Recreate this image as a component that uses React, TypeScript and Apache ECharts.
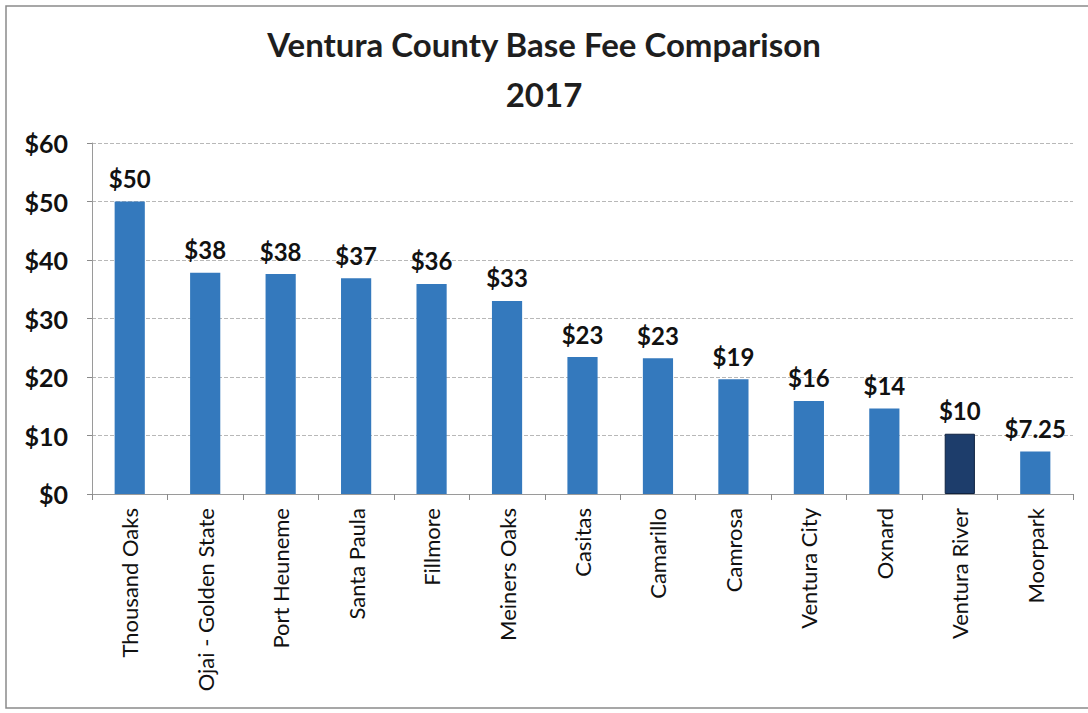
import React, { useEffect, useRef } from "react";
import * as echarts from "echarts";

const categories = [
  "Thousand Oaks",
  "Ojai - Golden State",
  "Port Heuneme",
  "Santa Paula",
  "Fillmore",
  "Meiners Oaks",
  "Casitas",
  "Camarillo",
  "Camrosa",
  "Ventura City",
  "Oxnard",
  "Ventura River",
  "Moorpark",
];
const values = [50, 37.8, 37.6, 36.9, 35.9, 33, 23.4, 23.2, 19.6, 15.9, 14.6, 10.3, 7.25];
const valueLabels = ["$50", "$38", "$38", "$37", "$36", "$33", "$23", "$23", "$19", "$16", "$14", "$10", "$7.25"];
const highlighted = ["Ventura River"];
const titleLines = ["Ventura County Base Fee Comparison", "2017"];

export default function App() {
  const ref = useRef<HTMLDivElement>(null);
  useEffect(() => {
    if (!ref.current) return;
    const chart = echarts.init(ref.current, undefined, { renderer: "svg" });
    const font = "Lato, 'Open Sans', sans-serif";
    chart.setOption({
      animation: false,
      backgroundColor: "#ffffff",
      title: {
        text: titleLines.join("\n"),
        left: "center",
        top: 14,
        padding: [5, 0, 5, 20],
        textStyle: {
          fontFamily: font,
          fontSize: 33,
          fontWeight: "bold",
          color: "#1e1e1e",
          lineHeight: 50,
        },
      },
      graphic: [
        {
          type: "rect",
          shape: { x: 6, y: 6, width: 1100, height: 702 },
          style: { fill: "none", stroke: "#8a8a8a", lineWidth: 1.5 },
          silent: true,
        },
      ],
      grid: { left: 92, right: 15, top: 143, bottom: 219, containLabel: false },
      xAxis: {
        type: "category",
        data: categories,
        axisLine: { show: true, lineStyle: { color: "#9a9a9a", width: 1 } },
        axisTick: { show: true, alignWithLabel: false, length: 6, lineStyle: { color: "#8a8a8a" } },
        axisLabel: {
          rotate: 90,
          interval: 0,
          margin: 14,
          fontFamily: font,
          fontSize: 22,
          color: "#111",
        },
      },
      yAxis: {
        type: "value",
        min: 0,
        max: 60,
        interval: 10,
        axisLine: { show: true, lineStyle: { color: "#9a9a9a", width: 1 } },
        axisTick: { show: true, length: 5, lineStyle: { color: "#8a8a8a" } },
        axisLabel: {
          formatter: (v: number) => "$" + v,
          fontFamily: font,
          fontSize: 25,
          fontWeight: "bold",
          color: "#111",
          margin: 24,
        },
        splitLine: { show: true, lineStyle: { color: "#b8b8b8", type: "dashed", width: 1 } },
      },
      series: [
        {
          type: "bar",
          data: values.map((v, i) => ({
            value: v,
            itemStyle: {
              color: highlighted.includes(categories[i]) ? "#1d3d6b" : "#3479bd",
              borderColor: highlighted.includes(categories[i]) ? "#0f2240" : undefined,
              borderWidth: highlighted.includes(categories[i]) ? 1 : 0,
            },
          })),
          barWidth: "40%",
          label: {
            show: true,
            position: "top",
            distance: 11,
            formatter: (p: any) => valueLabels[p.dataIndex],
            fontFamily: font,
            fontSize: 24,
            fontWeight: "bold",
            color: "#111",
          },
        },
      ],
    });
    return () => chart.dispose();
  }, []);
  return (
    <div
      ref={ref}
      style={{ position: "absolute", left: 0, top: 0, width: 1088, height: 713 }}
    />
  );
}
